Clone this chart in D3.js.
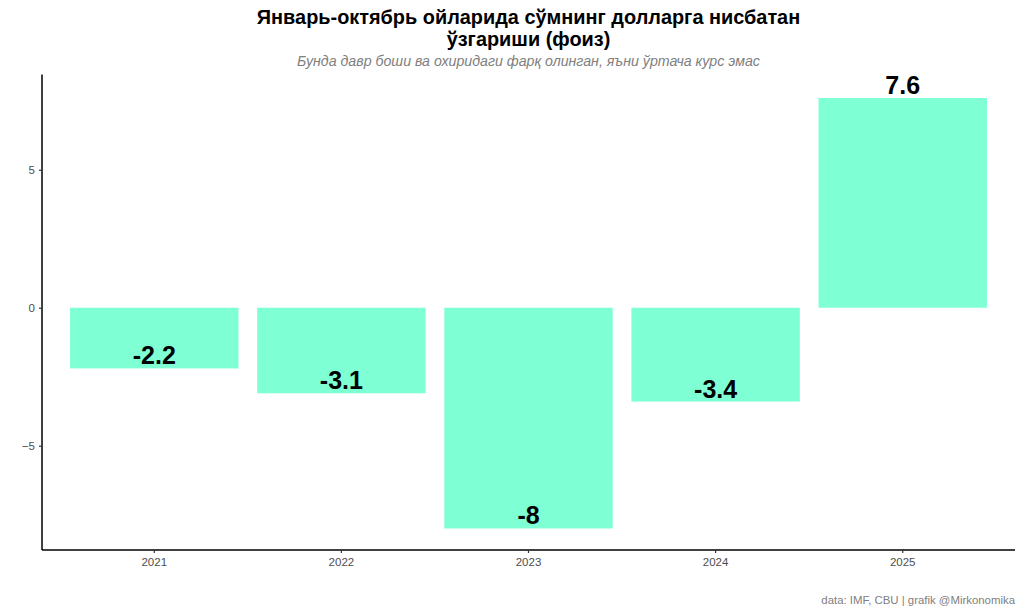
<!DOCTYPE html>
<html><head><meta charset="utf-8">
<script src="https://cdn.jsdelivr.net/npm/d3@7"></script>
<style>body{margin:0;background:#fff}svg{display:block;font-family:"Liberation Sans",Arial,sans-serif}</style>
</head><body>
<svg id="c" width="1024" height="614"></svg>
<script>
const years = ["2021","2022","2023","2024","2025"];
const values = [-2.2, -3.1, -8, -3.4, 7.6];
const labels = ["-2.2","-3.1","-8","-3.4","7.6"];
const yTicks = [-5, 0, 5];
const titleLines = ["Январь-октябрь ойларида сўмнинг долларга нисбатан","ўзгариши (фоиз)"];
const subtitle = "Бунда давр боши ва охиридаги фарқ олинган, яъни ўртача курс эмас";
const caption = "data: IMF, CBU | grafik @Mirkonomika";

const svg = d3.select("#c");
const L = 42, R = 1015, T = 76.5, B = 550;
const ext = [d3.min(values), d3.max(values)];
const pad = (ext[1]-ext[0])*0.05;
const y = d3.scaleLinear().domain([ext[0]-pad, ext[1]+pad]).range([B, T]);
const x = d3.scaleBand().domain(years).range([L, R]).paddingInner(0.1).paddingOuter(0.15);

svg.selectAll("rect.bar").data(values).join("rect").attr("class","bar")
  .attr("x",(d,i)=>x(years[i])).attr("width",x.bandwidth())
  .attr("y",d=>y(Math.max(0,d))).attr("height",d=>Math.abs(y(d)-y(0)))
  .attr("fill","#7FFFD4");

svg.selectAll("text.lbl").data(values).join("text").attr("class","lbl")
  .attr("x",(d,i)=>x(years[i])+x.bandwidth()/2).attr("y",d=>y(d)-4)
  .attr("text-anchor","middle").attr("font-size",25).attr("font-weight","bold").attr("fill","#000")
  .text((d,i)=>labels[i]);

const yAxis = svg.append("g").attr("transform",`translate(${L},0)`)
  .call(d3.axisLeft(y).tickValues(yTicks).tickSize(3).tickPadding(4).tickFormat(d3.format("d")));
const xAxis = svg.append("g").attr("transform",`translate(0,${B})`)
  .call(d3.axisBottom(x).tickSize(3).tickPadding(5));
[yAxis,xAxis].forEach(g=>{
  g.select(".domain").attr("stroke","#000").attr("stroke-width",1.5);
  g.selectAll(".tick line").attr("stroke","#333").attr("stroke-width",1.2);
  g.selectAll(".tick text").attr("fill","#4d4d4d").attr("font-size",11.5).attr("font-family","Liberation Sans, Arial, sans-serif");
});
yAxis.select(".domain").attr("d",`M0,${T-2}V${B}`);
xAxis.select(".domain").attr("d",`M${L},0H${R}`);

const cx = (L+R)/2;
svg.selectAll("text.title").data(titleLines).join("text").attr("class","title")
  .attr("x",cx).attr("y",(d,i)=>24+i*22).attr("text-anchor","middle")
  .attr("font-size",19.9).attr("font-weight","bold").attr("fill","#000").text(d=>d);
svg.append("text").attr("x",cx).attr("y",66).attr("text-anchor","middle")
  .attr("font-size",14.2).attr("font-style","italic").attr("fill","#808080").text(subtitle);
svg.append("text").attr("x",R).attr("y",604).attr("text-anchor","end")
  .attr("font-size",11.4).attr("fill","#808080").text(caption);
</script>
</body></html>
